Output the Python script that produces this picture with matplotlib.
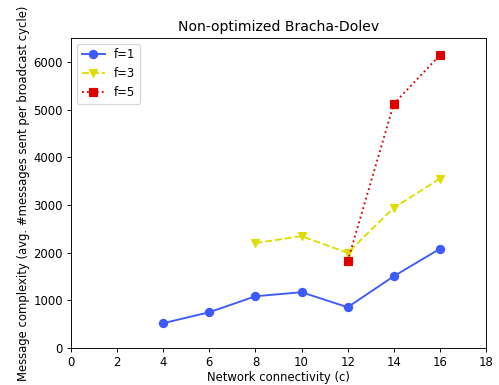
import matplotlib
matplotlib.use("Agg")
import matplotlib.pyplot as plt

# connectivity values
c_f1 = [4, 6, 8, 10, 12, 14, 16]
msgs_f1 = [520, 750, 1085, 1170, 855, 1505, 2080]

c_f3 = [8, 10, 12, 14, 16]
msgs_f3 = [2200, 2345, 1995, 2940, 3550]

c_f5 = [12, 14, 16]
msgs_f5 = [1820, 5120, 6140]

# original looks like a default figure scaled down, so render at lower dpi
DPI = 84
fig = plt.figure(figsize=(499 / DPI, 385 / DPI), dpi=DPI)
ax = fig.add_axes([71/499, 1 - 348/385, 415/499, 310/385])

ax.plot(c_f1, msgs_f1, 'o-', color='#3d5afe', ms=7, lw=1.6, label='f=1')
ax.plot(c_f3, msgs_f3, 'v--', color='#dddd00', ms=7, lw=1.6, label='f=3')
ax.plot(c_f5, msgs_f5, 's:', color='#e00000', ms=7, lw=1.6, label='f=5')

ax.set_xlim(0, 18)
ax.set_ylim(0, 6500)
ax.set_xticks(range(0, 19, 2))
ax.set_xlabel('Network connectivity (c)', labelpad=2)
ax.set_ylabel('Message complexity (avg. #messages sent per broadcast cycle)', labelpad=3)
ax.set_title('Non-optimized Bracha-Dolev')
ax.legend(loc='upper left')

fig.savefig('out.png', dpi=DPI)
